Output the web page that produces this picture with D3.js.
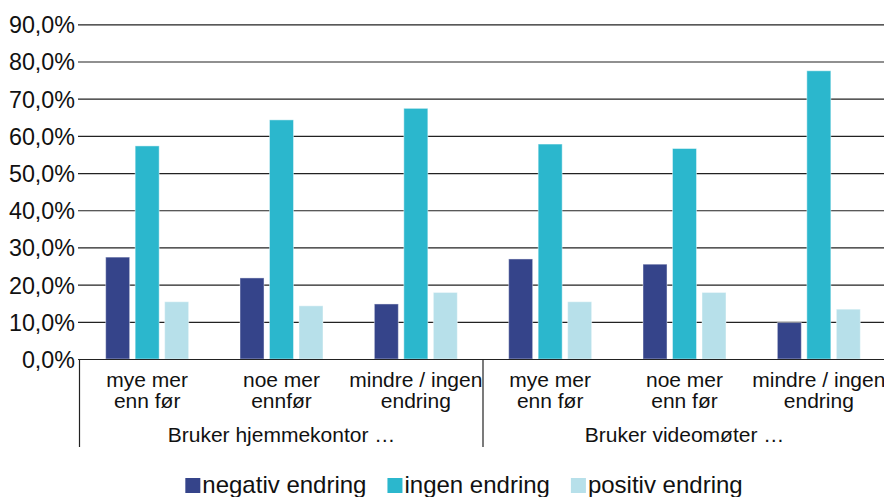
<!DOCTYPE html>
<html>
<head>
<meta charset="utf-8">
<script src="https://cdn.jsdelivr.net/npm/d3@7"></script>
<style>
  html, body { margin: 0; padding: 0; background: #fff; }
  svg { display: block; font-family: "Liberation Sans", Arial, sans-serif; }
</style>
</head>
<body>
<svg id="chart" width="884" height="497"></svg>
<script>
// ---- data ----
const groups = ["Bruker hjemmekontor …", "Bruker videomøter …"];
const categories = [
  ["mye mer", "enn før"],
  ["noe mer", "ennfør"],
  ["mindre / ingen", "endring"],
  ["mye mer", "enn før"],
  ["noe mer", "enn før"],
  ["mindre / ingen", "endring"]
];
const seriesNames = ["negativ endring", "ingen endring", "positiv endring"];
const negativ = [0.274, 0.218, 0.148, 0.269, 0.255, 0.098];
const ingen   = [0.573, 0.643, 0.674, 0.578, 0.566, 0.775];
const positiv = [0.154, 0.143, 0.179, 0.154, 0.179, 0.134];
const seriesValues = [negativ, ingen, positiv];
const colors = ["#35448a", "#2bb7cd", "#b7e0ea"];
const yTicks = [0, 0.1, 0.2, 0.3, 0.4, 0.5, 0.6, 0.7, 0.8, 0.9];

// ---- layout ----
const svg = d3.select("#chart");
const plotLeft = 79, plotRight = 886, plotTop = 24.3, plotBottom = 359;

const x0 = d3.scaleBand().domain(d3.range(categories.length)).range([plotLeft + 1, plotRight]).padding(0);
const x1 = d3.scaleBand().domain(d3.range(seriesNames.length)).range([0, 83]).paddingInner(0.186).paddingOuter(0);
const y = d3.scaleLinear().domain([0, 0.9]).range([plotBottom, plotTop]);

const fmt = v => d3.format(".1f")(v * 100).replace(".", ",") + "%";

// gridlines + y axis labels
const yAxis = d3.axisLeft(y).tickValues(yTicks).tickSize(0).tickPadding(4).tickFormat(fmt);
const gy = svg.append("g").attr("transform", `translate(${plotLeft},0)`).call(yAxis);
gy.select(".domain").remove();
gy.selectAll("text").attr("font-size", 23.3).attr("fill", "#111").attr("font-family", "Liberation Sans, Arial, sans-serif").attr("dy", "0.36em");
gy.selectAll(".tick").append("line")
  .attr("x1", -1).attr("x2", 884 - plotLeft)
  .attr("stroke", "#222").attr("stroke-width", 1.2);

// bars
const gBars = svg.append("g");
categories.forEach((c, i) => {
  const off = x0(i) + x0.bandwidth() / 2 - 41.5;
  seriesValues.forEach((vals, s) => {
    gBars.append("rect")
      .attr("x", off + x1(s))
      .attr("y", y(vals[i]))
      .attr("width", x1.bandwidth())
      .attr("height", y(0) - y(vals[i]))
      .attr("fill", colors[s])
      .attr("stroke", "rgba(255,255,255,0.45)")
      .attr("stroke-width", 1);
  });
});

// baseline and x axis separators
svg.append("line").attr("x1", plotLeft).attr("x2", 884).attr("y1", plotBottom + 0.5).attr("y2", plotBottom + 0.5)
  .attr("stroke", "#222").attr("stroke-width", 1.2);
[plotLeft + 0.5, x0(3)].forEach(xx => {
  svg.append("line").attr("x1", xx).attr("x2", xx).attr("y1", plotBottom).attr("y2", 447)
    .attr("stroke", "#222").attr("stroke-width", 1.2);
});

// category labels
const gCat = svg.append("g").attr("font-size", 21).attr("fill", "#111").attr("text-anchor", "middle");
categories.forEach((c, i) => {
  const cx = x0(i) + x0.bandwidth() / 2;
  c.forEach((line, k) => {
    gCat.append("text").attr("x", cx).attr("y", 387 + k * 21).text(line);
  });
});
// group labels
groups.forEach((g, j) => {
  const cx = (x0(j * 3) + x0(j * 3 + 2) + x0.bandwidth()) / 2;
  gCat.append("text").attr("x", cx).attr("y", 442).text(g);
});

// legend
const gLeg = svg.append("g").attr("font-size", 24).attr("fill", "#111");
const items = seriesNames.map((n, i) => {
  const g = gLeg.append("g");
  g.append("rect").attr("x", 0).attr("y", -15).attr("width", 15).attr("height", 15).attr("fill", colors[i]);
  const t = g.append("text").attr("x", 17).attr("y", 0).text(n);
  return { g, w: 17 + t.node().getComputedTextLength() };
});
const gap = 21;
const total = d3.sum(items, d => d.w) + gap * (items.length - 1);
let lx = 464 - total / 2;
items.forEach(it => {
  it.g.attr("transform", `translate(${lx},493)`);
  lx += it.w + gap;
});
</script>
</body>
</html>
